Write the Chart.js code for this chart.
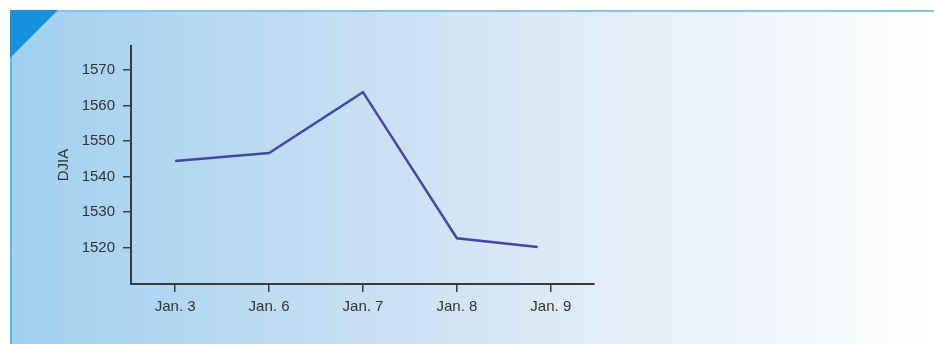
<!DOCTYPE html>
<html>
<head>
<meta charset="utf-8">
<script src="https://cdn.jsdelivr.net/npm/chart.js@4"></script>
<style>
  html, body { margin: 0; padding: 0; background: #fff; }
  #wrap { position: relative; width: 934px; height: 344px; overflow: hidden; }
  #panel {
    position: absolute; left: 10px; top: 10px; right: 0; bottom: 0;
    border-top: 2px solid #86c5ec; border-left: 2px solid #62b5e8;
    background: linear-gradient(to right, #a0d0f0 0%, #c4def2 35%, #e2edf7 65%, #ffffff 100%);
  }
  #corner {
    position: absolute; left: 10px; top: 10px; width: 48px; height: 48px;
    background: #1692da; clip-path: polygon(0 0, 100% 0, 0 100%);
  }
  canvas { position: absolute; left: 0; top: 0; }
</style>
</head>
<body>
<div id="wrap">
  <div id="panel"></div>
  <div id="corner"></div>
  <canvas id="chart" width="934" height="344"></canvas>
</div>
<script>
// values
const dayLabels = ['Jan. 3', 'Jan. 6', 'Jan. 7', 'Jan. 8', 'Jan. 9'];
const dayPos = [0, 1, 2, 3, 3.86];   // last point sits a bit left of its tick
const djia = [1544.4, 1546.6, 1563.8, 1522.6, 1520.1];
const djiaTicks = [1520, 1530, 1540, 1550, 1560, 1570];

const axisColor = '#3a3a3a';
const textColor = '#333333';
const fontFamily = 'Liberation Sans, Arial, sans-serif';

const points = dayPos.map((x, i) => ({ x: x, y: djia[i] }));

new Chart(document.getElementById('chart'), {
    type: 'line',
    data: {
        datasets: [{
            data: points,
            borderColor: '#4747a0',
            borderWidth: 2.5,
            pointRadius: 0,
            tension: 0,
            fill: false
        }]
    },
    options: {
        responsive: false,
        animation: false,
        layout: { padding: { left: 55, top: 46, right: 340, bottom: 0 } },
        plugins: { legend: { display: false }, tooltip: { enabled: false } },
        scales: {
            x: {
                type: 'linear',
                min: -0.47,
                max: 4.46,
                afterFit: s => { s.height = 60; },
                afterBuildTicks: s => { s.ticks = dayLabels.map((l, i) => ({ value: i })); },
                border: { display: true, color: axisColor, width: 2 },
                grid: { drawOnChartArea: false, drawTicks: true, tickLength: 8, color: axisColor, lineWidth: 1.5 },
                ticks: {
                    autoSkip: false,
                    maxRotation: 0,
                    padding: 6,
                    color: textColor,
                    font: { family: fontFamily, size: 15 },
                    callback: v => dayLabels[v]
                }
            },
            y: {
                min: 1509.7,
                max: 1576.8,
                afterFit: s => { s.width = 76; },
                afterBuildTicks: s => { s.ticks = djiaTicks.map(v => ({ value: v })); },
                border: { display: true, color: axisColor, width: 2 },
                grid: { drawOnChartArea: false, drawTicks: true, tickLength: 8, color: axisColor, lineWidth: 1.5 },
                title: {
                    display: true,
                    text: 'DJIA',
                    color: textColor,
                    padding: 0,
                    font: { family: fontFamily, size: 15 }
                },
                ticks: {
                    padding: 8,
                    color: textColor,
                    font: { family: fontFamily, size: 15 },
                    callback: v => String(v)
                }
            }
        }
    }
});
</script>
</body>
</html>
